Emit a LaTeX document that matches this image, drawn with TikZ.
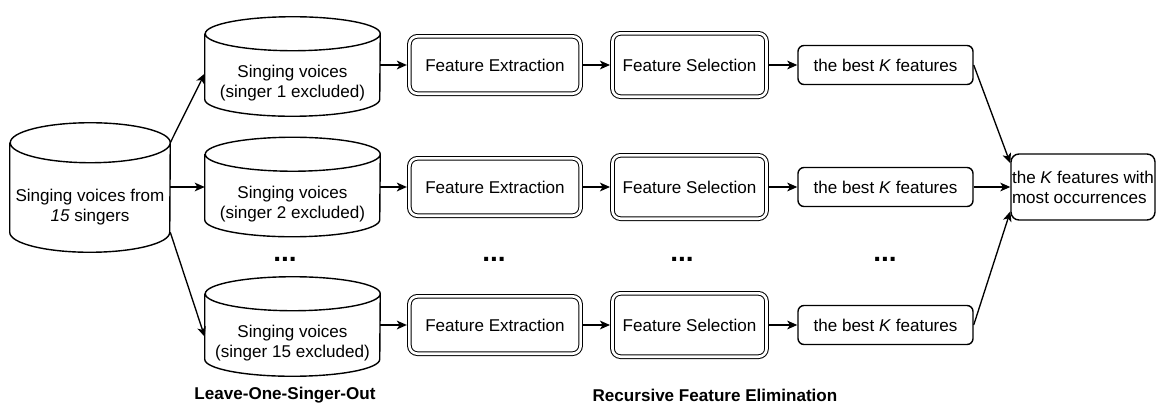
\documentclass[tikz,border=0pt]{standalone}
\usepackage{fontspec}
\setmainfont{Liberation Sans}
\usepackage{tikz}
\usetikzlibrary{arrows.meta,calc}

\tikzset{
  every node/.style={font=\fontsize{12.8}{15}\selectfont, inner sep=1pt},
  dbline/.style={line width=1.05pt},
  dbbody/.style={minimum width=131.25pt, minimum height=48.75pt, align=center},
  stagebox/.style={draw, line width=0.75pt, double, double distance=2pt,
    rounded corners=6pt, minimum height=43pt},
  outbox/.style={draw, line width=1.05pt, rounded corners=4.5pt,
    minimum width=131.25pt, minimum height=29.25pt},
  procarrow/.style={line width=1.5pt, -{Stealth[length=7.5pt,width=6.5pt,inset=2pt]}},
  thinarrow/.style={line width=1pt, -{Stealth[length=7.5pt,width=6.5pt,inset=2pt]}},
  dotsty/.style={font=\fontsize{21}{24}\selectfont\bfseries},
  labelsty/.style={font=\fontsize{12.8}{15}\selectfont\bfseries}
}

% cylinder outline round a body node: node, x radius, y radius
\newcommand{\dbcyl}[3]{%
  \draw[dbline] ([yshift=#3*0.75pt]#1.north west) -- ([yshift=#3*0.75pt]#1.south west)
    arc[start angle=180, end angle=360, x radius=#2, y radius=#3]
    -- ([yshift=#3*0.75pt]#1.north east)
    arc[start angle=0, end angle=360, x radius=#2, y radius=#3];
}

\begin{document}
\begin{tikzpicture}[x=0.75pt, y=0.75pt]

  \useasboundingbox (0,0) rectangle (1156,405);

  % Source data
  \node[dbbody, minimum width=120pt, minimum height=66.75pt] (src) at (90,197.5)
    {Singing voices from\\\textit{15} singers};
  \dbcyl{src}{80}{20}

  % Leave-one-singer-out subsets
  \node[dbbody] (c1) at (292.5,321.5) {Singing voices\\(singer 1 excluded)};
  \node[dbbody] (c2) at (292.5,201) {Singing voices\\(singer 2 excluded)};
  \node[dbbody] (c3) at (292.5,61.5) {Singing voices\\(singer 15 excluded)};
  \dbcyl{c1}{87.5}{17}
  \dbcyl{c2}{87.5}{17}
  \dbcyl{c3}{87.5}{17}

  % Feature extraction / selection / result
  \node[stagebox, minimum width=128.4pt] (fe1) at (495,340) {Feature Extraction};
  \node[stagebox, minimum width=128.4pt] (fe2) at (495,218) {Feature Extraction};
  \node[stagebox, minimum width=128.4pt] (fe3) at (495,80) {Feature Extraction};

  \node[stagebox, minimum width=115.5pt, minimum height=47.5pt] (fs1) at (689.5,340) {Feature Selection};
  \node[stagebox, minimum width=115.5pt, minimum height=47.5pt] (fs2) at (689.5,218) {Feature Selection};
  \node[stagebox, minimum width=115.5pt, minimum height=47.5pt] (fs3) at (689.5,80) {Feature Selection};

  \node[outbox] (best1) at (885.5,340) {the best \textit{K} features};
  \node[outbox] (best2) at (885.5,218) {the best \textit{K} features};
  \node[outbox] (best3) at (885.5,80) {the best \textit{K} features};

  \node[draw, line width=1.05pt, rounded corners=6pt, minimum width=108pt, minimum height=49.5pt,
    align=left, inner xsep=0.5pt] (final) at (1083,218)
    {the \textit{K} features with\\most occurrences};

  % Dots
  \node[dotsty] (d1) at (285,146) {...};
  \node[dotsty] (d2) at (494,146) {...};
  \node[dotsty] (d3) at (682,146) {...};
  \node[dotsty] (d4) at (885,146) {...};

  % Labels
  \node[labelsty] (loso) at (285,10) {Leave-One-Singer-Out};
  \node[labelsty] (rfe) at (715,10) {Recursive Feature Elimination};

  % Arrows
  \draw[thinarrow] ([yshift=15pt]src.north east) -- ([yshift=7.5pt]c1.west);
  \draw[thinarrow] (src.east |- fe2) -- (c2.west |- fe2);
  \draw[thinarrow] ([yshift=15pt]src.south east) -- ([yshift=5pt]c3.west);

  \foreach \i in {1,2,3} {
    \draw[procarrow, shorten >=1.5pt] (fe\i.west -| c\i.east) -- (fe\i.west);
    \draw[procarrow, shorten >=1.5pt, shorten <=1.5pt] (fe\i.east) -- (fe\i.east -| fs\i.west);
    \draw[procarrow, shorten <=1.5pt] (fs\i.east) -- (fs\i.east -| best\i.west);
  }

  \draw[thinarrow] (best1.east) -- ([yshift=-7.5pt]final.north west);
  \draw[thinarrow] (best2.east) -- (best2.east -| final.west);
  \draw[thinarrow] (best3.east) -- ([yshift=7pt]final.south west);

\end{tikzpicture}
\end{document}
